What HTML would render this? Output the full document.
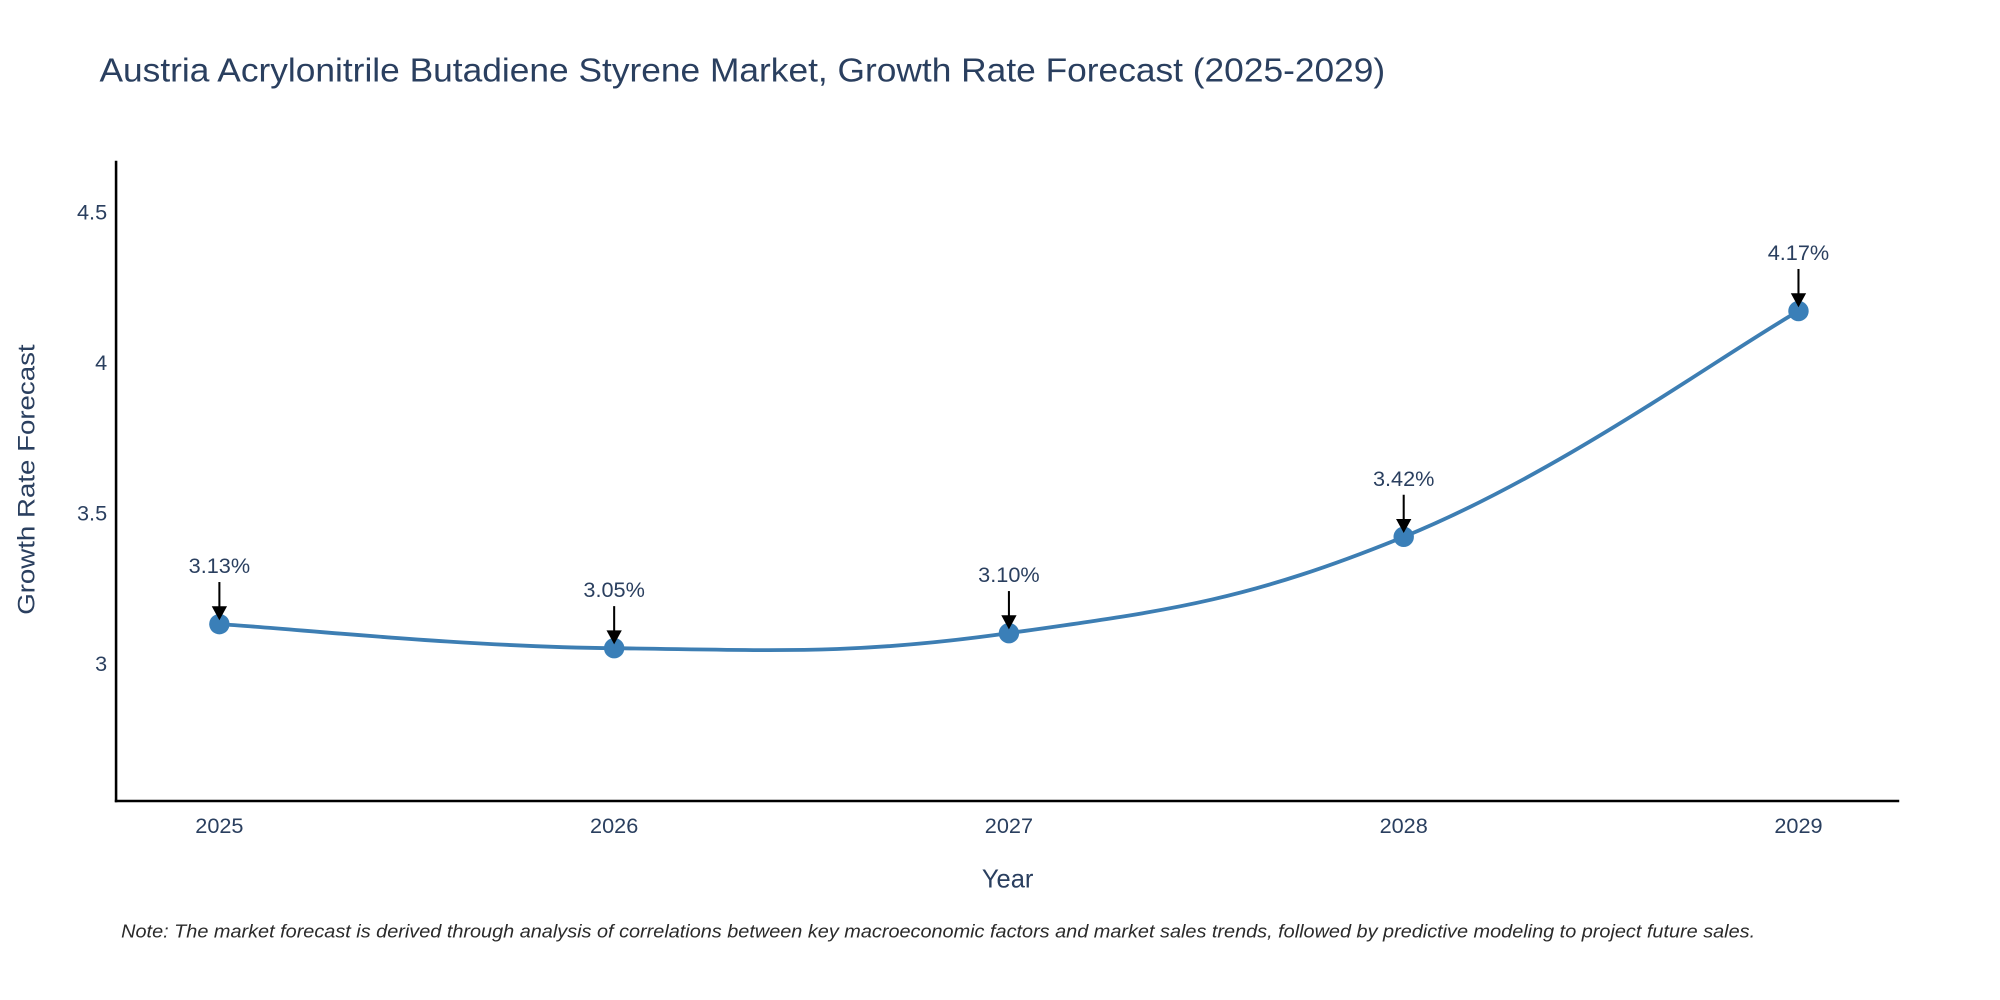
<!DOCTYPE html>
<html><head><meta charset="utf-8"><style>
html,body{margin:0;padding:0;background:#fff;}
svg{display:block;font-family:"Liberation Sans",sans-serif;}
</style></head><body>
<svg id="chart" width="2000" height="1000" viewBox="0 0 1568 784" xmlns="http://www.w3.org/2000/svg">
<rect width="1568" height="784" fill="#fff"/>
<text x="78" y="64" font-size="26" fill="#2a3f5f" textLength="1008" lengthAdjust="spacingAndGlyphs">Austria Acrylonitrile Butadiene Styrene Market, Growth Rate Forecast (2025-2029)</text>
<g id="yticks"></g><g id="xticks"></g>
<line x1="91" y1="126" x2="91" y2="629" stroke="#000" stroke-width="2"/>
<line x1="90" y1="628" x2="1489" y2="628" stroke="#000" stroke-width="2"/>
<text transform="translate(27,376) rotate(-90)" text-anchor="middle" font-size="19" fill="#2a3f5f" textLength="212" lengthAdjust="spacingAndGlyphs">Growth Rate Forecast</text>
<text x="790" y="696" text-anchor="middle" font-size="20" fill="#2a3f5f">Year</text>
<path id="line" fill="none" stroke="#3d7eb3" stroke-width="3"/>
<g id="marks"></g>
<text x="95" y="735" font-size="14.5" font-style="italic" fill="#2a2a2a" textLength="1281" lengthAdjust="spacingAndGlyphs">Note: The market forecast is derived through analysis of correlations between key macroeconomic factors and market sales trends, followed by predictive modeling to project future sales.</text>
</svg>
<script>
const categories = ["2025","2026","2027","2028","2029"];
const values = [3.13, 3.05, 3.10, 3.42, 4.17];
const labels = ["3.13%","3.05%","3.10%","3.42%","4.17%"];
const yTicks = [3, 3.5, 4, 4.5];
const yTickLabels = ["3","3.5","4","4.5"];
const NS="http://www.w3.org/2000/svg";
function xs(i){return 172 + i*(1410-172)/(categories.length-1);}
function ys(v){return 520 - (v-3)*236;}
function mk(tag,attrs,parent){const e=document.createElementNS(NS,tag);for(const k in attrs)e.setAttribute(k,attrs[k]);parent.appendChild(e);return e;}
const yg=document.getElementById('yticks'), xg=document.getElementById('xticks'), mg=document.getElementById('marks');
yTicks.forEach((t,i)=>{const e=mk('text',{x:84,y:ys(t)+6,'text-anchor':'end','font-size':17,fill:'#2a3f5f'},yg);


e.textContent=yTickLabels[i];});
categories.forEach((c,i)=>{const e=mk('text',{x:xs(i),y:653,'text-anchor':'middle','font-size':17,fill:'#2a3f5f'},xg);


e.textContent=c;});
const P=values.map((v,i)=>[xs(i),ys(v)]);
let d=`M${P[0][0]},${P[0][1]}`;
for(let i=0;i<P.length-1;i++){const p0=P[i-1]||P[i],p1=P[i],p2=P[i+1],p3=P[i+2]||P[i+1];const t=0.2;
d+=` C${p1[0]+(p2[0]-p0[0])*t},${p1[1]+(p2[1]-p0[1])*t} ${p2[0]-(p3[0]-p1[0])*t},${p2[1]-(p3[1]-p1[1])*t} ${p2[0]},${p2[1]}`;}
document.getElementById('line').setAttribute('d',d);
P.forEach((p,i)=>{
const c=mk('circle',{cx:p[0],cy:p[1],r:8,fill:'#3a7fb8'},mg);


const a=mk('line',{x1:p[0],y1:p[1]-33,x2:p[0],y2:p[1]-10,stroke:'#000','stroke-width':1.6},mg);


const h=mk('polygon',{points:`${p[0]-6},${p[1]-14} ${p[0]+6},${p[1]-14} ${p[0]},${p[1]-3}`,fill:'#000'},mg);


const t=mk('text',{x:p[0],y:p[1]-40,'text-anchor':'middle','font-size':17,fill:'#2a3f5f'},mg);


t.textContent=labels[i];
});
</script>
</body></html>
